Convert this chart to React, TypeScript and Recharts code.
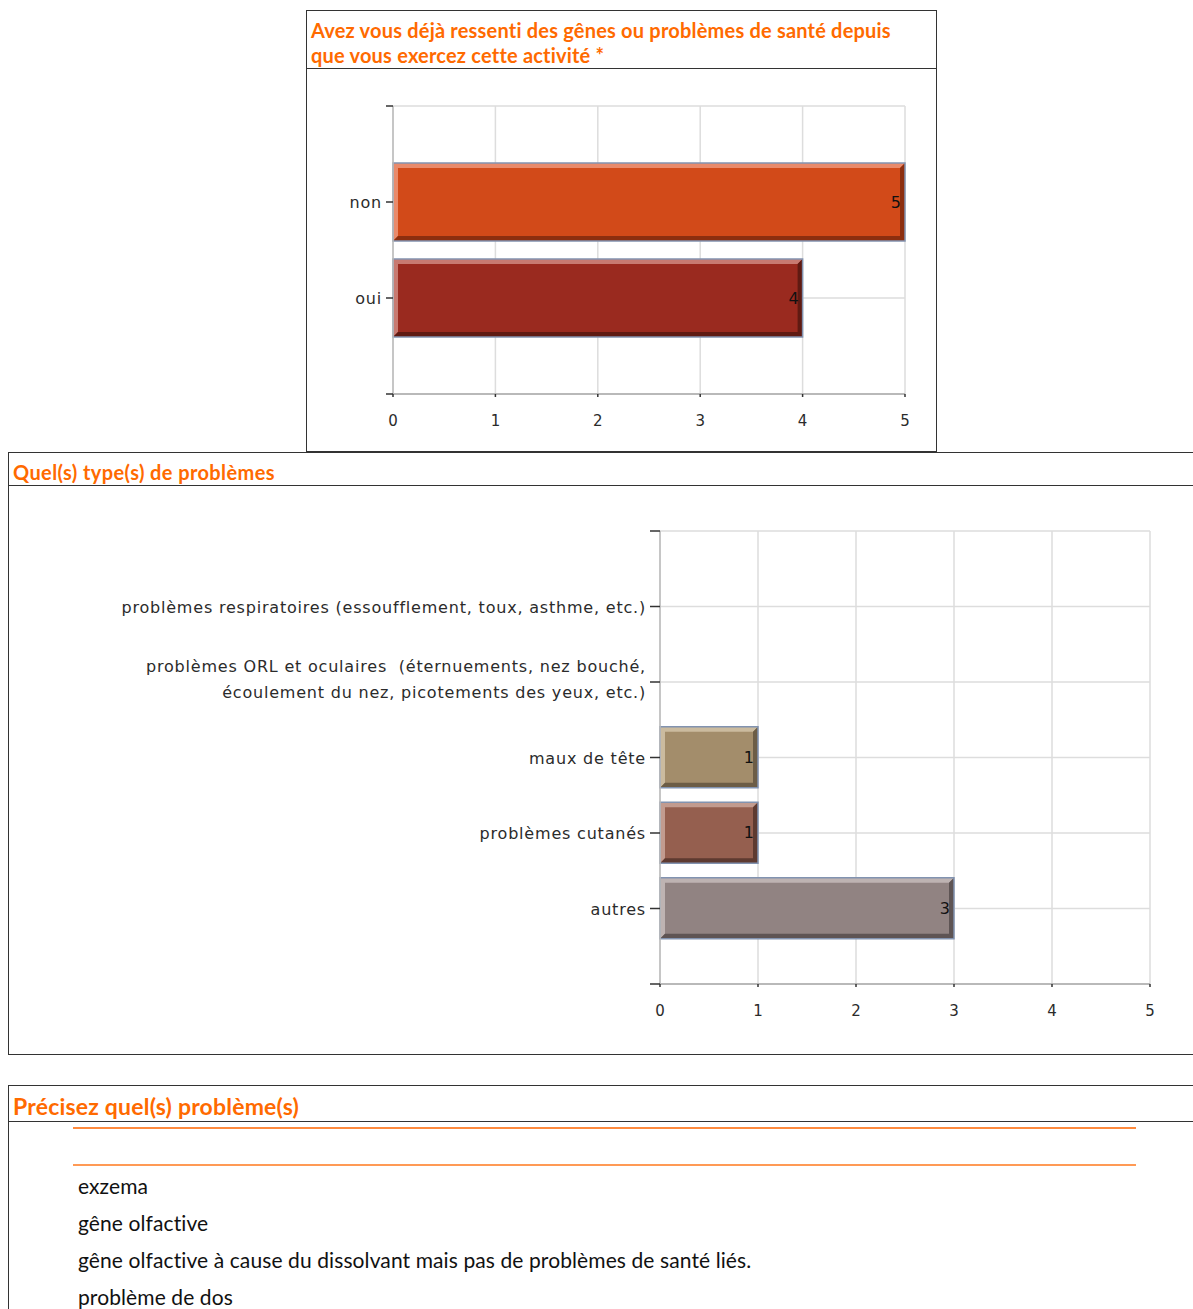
import React from 'react';
import {
  BarChart,
  Bar,
  XAxis,
  YAxis,
  CartesianGrid,
  LabelList,
} from 'recharts';

// question 1
const q1Title = 'Avez vous déjà ressenti des gênes ou problèmes de santé depuis que vous exercez cette activité *';
const q1Cats = ['non', 'oui'];
const q1Values = [5, 4];

// question 2
const q2Title = 'Quel(s) type(s) de problèmes';
const q2Cats = [
  'problèmes respiratoires (essoufflement, toux, asthme, etc.)',
  'problèmes ORL et oculaires  (éternuements, nez bouché,\nécoulement du nez, picotements des yeux, etc.)',
  'maux de tête',
  'problèmes cutanés',
  'autres',
];
const q2Values = [0, 0, 1, 1, 3];

// question 3 (free text answers)
const q3Title = 'Précisez quel(s) problème(s)';
const q3Answers = [
  'exzema',
  'gêne olfactive',
  'gêne olfactive à cause du dissolvant mais pas de problèmes de santé liés.',
  'problème de dos',
];

const xTicks = [0, 1, 2, 3, 4, 5];

const q1Colors = [
  { face: '#d24a19', light: '#e98a6b', dark: '#8c2e0f' },
  { face: '#9a2a1f', light: '#c87a71', dark: '#5f1a12' },
];
const q2Colors = [
  { face: '#8f8cc0', light: '#bbb9dc', dark: '#5b5884' },
  { face: '#7ea0b8', light: '#b2c8d8', dark: '#4e6a7e' },
  { face: '#a38d6b', light: '#cbbb9f', dark: '#6c5d46' },
  { face: '#955f4f', light: '#c29b8f', dark: '#5e3a30' },
  { face: '#918382', light: '#beb3b2', dark: '#5e5454' },
];

const ORANGE = '#ff6a00';
const TICK_FONT = '"DejaVu Sans", sans-serif';
const TEXT_FONT = 'Lato, "Open Sans", sans-serif';

// y axis runs top -> bottom in vertical layout, so first category sits at 1
const makeRows = (cats: string[], values: number[]) =>
  cats.map((c, i) => ({ cat: c, value: values[i], pos: i + 1 }));

const q1Data = makeRows(q1Cats, q1Values);
const q2Data = makeRows(q2Cats, q2Values);

const bevelShape = (palette: { face: string; light: string; dark: string }[]) => (props: any) => {
  const { x, y, width, height, index } = props;
  if (!width || width <= 0) return <g />;
  const c = palette[index % palette.length];
  const b = 5;
  const w = width;
  const h = height;
  return (
    <g>
      <rect x={x} y={y} width={w} height={h} fill={c.face} />
      <polygon
        points={`${x},${y} ${x + w},${y} ${x + w - b},${y + b} ${x + b},${y + b} ${x + b},${y + h - b} ${x},${y + h}`}
        fill={c.light}
      />
      <polygon
        points={`${x + w},${y} ${x + w},${y + h} ${x},${y + h} ${x + b},${y + h - b} ${x + w - b},${y + h - b} ${x + w - b},${y + b}`}
        fill={c.dark}
      />
      <rect x={x} y={y} width={w} height={h} fill="none" stroke="#8293b0" strokeWidth={1.5} />
    </g>
  );
};

const CatTick = (props: any) => {
  const { x, y, payload, labels } = props;
  const idx = payload.value - 1;
  const label = idx >= 0 && idx < labels.length ? labels[idx] : '';
  if (!label) return <g />;
  const lines = label.split('\n');
  const lh = 26;
  const start = y - ((lines.length - 1) * lh) / 2 - (lines.length > 1 ? 3 : 0);
  return (
    <text
      x={x}
      y={start}
      textAnchor="end"
      dominantBaseline="central"
      fill="#2b2b2b"
      fontSize={16}
      fontFamily={TICK_FONT}
      letterSpacing={0.8}
      style={{ whiteSpace: 'pre' }}
    >
      {lines.map((l: string, i: number) => (
        <tspan key={i} x={x} dy={i === 0 ? 0 : lh}>
          {l}
        </tspan>
      ))}
    </text>
  );
};

const valueFormatter = (v: any) => (v ? v : '');

interface HBarProps {
  data: { cat: string; value: number; pos: number }[];
  cats: string[];
  palette: { face: string; light: string; dark: string }[];
  width: number;
  height: number;
  margin: { top: number; right: number; bottom: number; left: number };
  yWidth: number;
  barSize: number;
  tickSize: number;
}

const HBar: React.FC<HBarProps> = ({ data, cats, palette, width, height, margin, yWidth, barSize, tickSize }) => {
  const yTicks = Array.from({ length: cats.length + 2 }, (_, i) => i);
  return (
    <BarChart width={width} height={height} data={data} layout="vertical" margin={margin}>
      <CartesianGrid stroke="#dddddd" strokeWidth={1.5} />
      <XAxis
        type="number"
        domain={[0, 5]}
        ticks={xTicks}
        interval={0}
        tickSize={3}
        tickMargin={18}
        height={44}
        axisLine={{ stroke: '#aaaaaa', strokeWidth: 1.5 }}
        tickLine={{ stroke: '#333333', strokeWidth: 1.5 }}
        tick={{ fill: '#2b2b2b', fontSize: 15, fontFamily: TICK_FONT }}
      />
      <YAxis
        type="number"
        dataKey="pos"
        domain={[0, cats.length + 1]}
        ticks={yTicks}
        interval={0}
        width={yWidth}
        tickSize={tickSize}
        tickMargin={4}
        axisLine={{ stroke: '#bbbbbb', strokeWidth: 1.5 }}
        tickLine={{ stroke: '#333333', strokeWidth: 1.5 }}
        tick={<CatTick labels={cats} />}
      />
      <Bar dataKey="value" barSize={barSize} isAnimationActive={false} shape={bevelShape(palette)}>
        <LabelList
          dataKey="value"
          position="insideRight"
          offset={4}
          formatter={valueFormatter}
          fill="#111111"
          fontSize={16}
          fontFamily={TICK_FONT}
        />
      </Bar>
    </BarChart>
  );
};

const border = '1.5px solid #333333';

const App: React.FC = () => {
  return (
    <div style={{ position: 'absolute', left: 0, top: 0, width: 1193, height: 1309, background: '#fff', overflow: 'hidden' }}>
      {/* box 1 */}
      <div style={{ position: 'absolute', left: 306, top: 10, width: 631, height: 442, border, boxSizing: 'border-box' }} />
      <div style={{ position: 'absolute', left: 306, top: 68, width: 631, height: 0, borderTop: border }} />
      <div
        style={{
          position: 'absolute',
          left: 311,
          top: 18,
          width: 610,
          color: ORANGE,
          fontFamily: TEXT_FONT,
          fontWeight: 700,
          fontSize: 20,
          letterSpacing: 0.2,
          lineHeight: '25px',
        }}
      >
        {q1Title}
      </div>
      <div style={{ position: 'absolute', left: 306, top: 70 }}>
        <HBar
          data={q1Data}
          cats={q1Cats}
          palette={q1Colors}
          width={631}
          height={381}
          margin={{ top: 36, right: 32, bottom: 13, left: 0 }}
          yWidth={87}
          barSize={78}
          tickSize={7}
        />
      </div>

      {/* box 2 */}
      <div style={{ position: 'absolute', left: 8, top: 452, width: 1200, height: 603, border, boxSizing: 'border-box' }} />
      <div style={{ position: 'absolute', left: 8, top: 485, width: 1190, height: 0, borderTop: border }} />
      <div
        style={{
          position: 'absolute',
          left: 13,
          top: 459,
          color: ORANGE,
          fontFamily: TEXT_FONT,
          fontWeight: 700,
          fontSize: 20,
          letterSpacing: 0.4,
          lineHeight: '26px',
        }}
      >
        {q2Title}
      </div>
      <div style={{ position: 'absolute', left: 8, top: 487 }}>
        <HBar
          data={q2Data}
          cats={q2Cats}
          palette={q2Colors}
          width={1185}
          height={567}
          margin={{ top: 44, right: 43, bottom: 26, left: 0 }}
          yWidth={652}
          barSize={61}
          tickSize={10}
        />
      </div>

      {/* box 3 */}
      <div style={{ position: 'absolute', left: 8, top: 1085, width: 1200, height: 300, border, boxSizing: 'border-box' }} />
      <div style={{ position: 'absolute', left: 8, top: 1121, width: 1190, height: 0, borderTop: border }} />
      <div
        style={{
          position: 'absolute',
          left: 13,
          top: 1091,
          color: ORANGE,
          fontFamily: TEXT_FONT,
          fontWeight: 700,
          fontSize: 23,
          letterSpacing: 0.2,
          lineHeight: '30px',
        }}
      >
        {q3Title}
      </div>
      <div style={{ position: 'absolute', left: 73, top: 1127, width: 1063, height: 0, borderTop: '2px solid #ff8a3d' }} />
      <div style={{ position: 'absolute', left: 73, top: 1164, width: 1063, height: 0, borderTop: '2px solid #ff9a55' }} />
      {q3Answers.map((a, i) => (
        <div
          key={i}
          style={{
            position: 'absolute',
            left: 78,
            top: 1171 + i * 37,
            fontFamily: TEXT_FONT,
            fontSize: 21,
            letterSpacing: 0.1,
            lineHeight: '30px',
            color: '#111',
          }}
        >
          {a}
        </div>
      ))}
    </div>
  );
};

export default App;
